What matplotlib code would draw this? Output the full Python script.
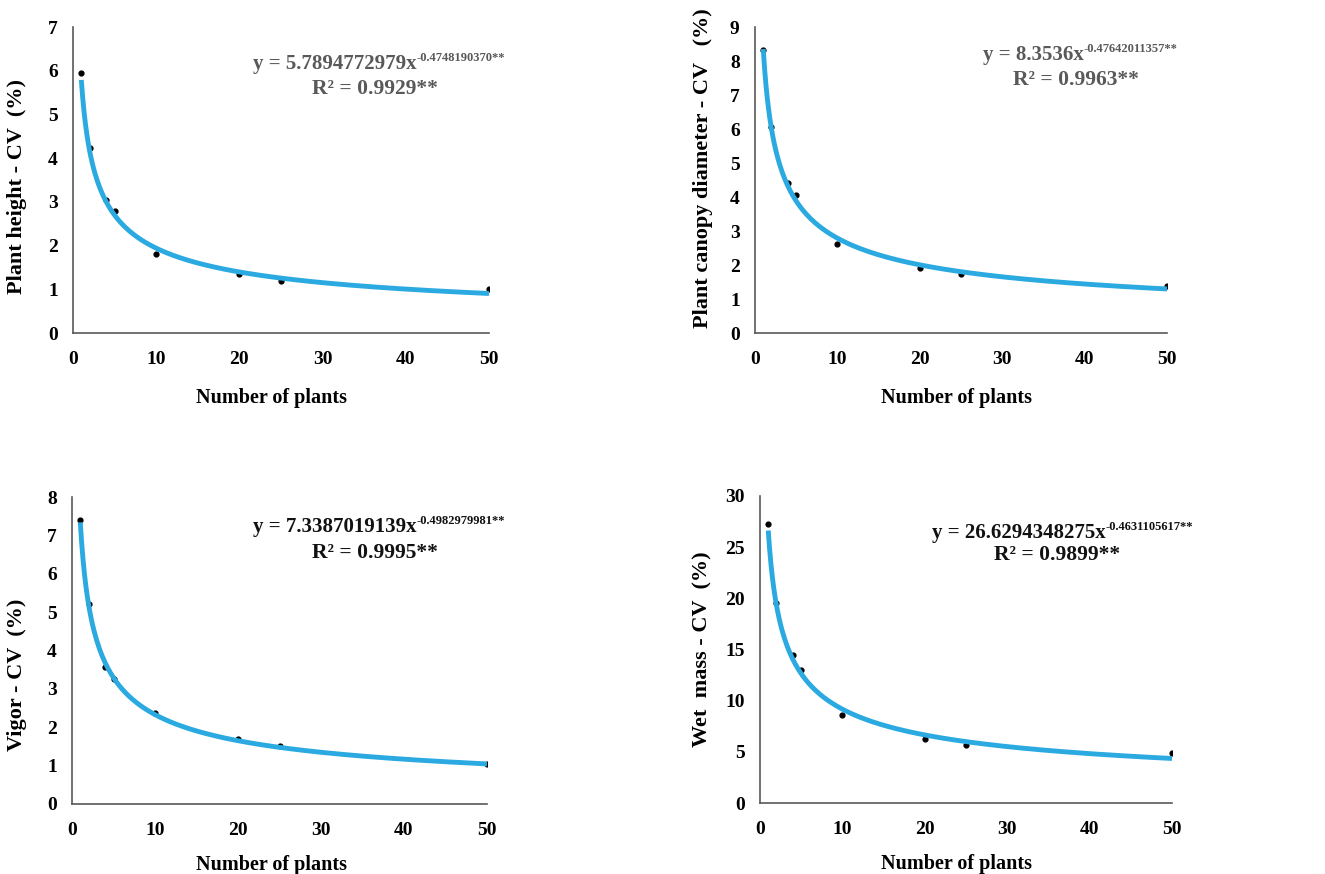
import numpy as np
import matplotlib
matplotlib.use("Agg")
import matplotlib.pyplot as plt

plt.rcParams['font.family'] = 'Liberation Serif'
plt.rcParams['font.weight'] = 'bold'

plants = [1, 2, 4, 5, 10, 20, 25, 50]

height_cv = [5.95, 4.23, 3.05, 2.78, 1.81, 1.35, 1.20, 1.00]
canopy_cv = [8.32, 6.05, 4.41, 4.05, 2.63, 1.90, 1.74, 1.37]
vigor_cv = [7.41, 5.22, 3.57, 3.27, 2.38, 1.70, 1.51, 1.03]
wetmass_cv = [27.27, 19.5, 14.5, 13.0, 8.6, 6.3, 5.66, 4.88]

# power fit coefficients as printed on the chart
coef_a = ["5.7894772979", "8.3536", "7.3387019139", "26.6294348275"]
coef_b = ["0.4748190370", "0.47642011357", "0.4982979981", "0.4631105617"]
r2 = ["0.9929", "0.9963", "0.9995", "0.9899"]

ylabels = ["Plant height - CV  (%)", "Plant canopy diameter - CV   (%)",
           "Vigor - CV  (%)", "Wet  mass - CV  (%)"]
ymax = [7, 9, 8, 30]
ysteps = [1, 1, 1, 5]
series = [height_cv, canopy_cv, vigor_cv, wetmass_cv]
text_colors = ["#595959", "#595959", "#111111", "#111111"]

W, H = 1325, 874
fig = plt.figure(figsize=(W / 100, H / 100), dpi=100)

# axes boxes in pixels: left, right, top, bottom
boxes = [(73, 489, 27, 333), (755, 1167, 27, 333),
         (72, 487, 497, 804), (760, 1172, 496, 803)]
eq_pos = [(0.433, 0.878), (0.553, 0.91), (0.436, 0.901), (0.417, 0.881)]
r2_pos = [(0.726, 0.797), (0.78, 0.827), (0.73, 0.818), (0.72, 0.808)]
ylab_y = [0.48, 0.54, 0.42, 0.50]
ylab_dx = [56, 52, 55, 58]
xlab_pos = [(0.478, -0.212), (0.49, -0.212), (0.48, -0.199), (0.478, -0.2)]

line_color = "#2AAAE0"
axes = []
for i in range(4):
    l, r, t, b = boxes[i]
    ax = fig.add_axes([l / W, 1 - b / H, (r - l) / W, (b - t) / H])
    axes.append(ax)

    a = float(coef_a[i])
    k = float(coef_b[i])
    xs = np.linspace(1, 50, 300)
    ax.scatter(plants, series[i], s=12, color="black", zorder=2)
    ax.plot(xs, a * xs ** (-k), color=line_color, lw=3.5, zorder=3,
            solid_capstyle="butt")

    ax.set_xlim(0, 50)
    ax.set_ylim(0, ymax[i])
    ax.set_xticks(np.arange(0, 51, 10))
    ax.set_yticks(np.arange(0, ymax[i] + 1, ysteps[i]))
    for s in ["top", "right"]:
        ax.spines[s].set_visible(False)
    for s in ["left", "bottom"]:
        ax.spines[s].set_color("#595959")
        ax.spines[s].set_linewidth(1.2)
    ax.tick_params(axis="both", length=0, labelsize=14)
    ax.tick_params(axis="y", pad=11)
    ax.tick_params(axis="x", pad=13)
    for lab in ax.get_xticklabels() + ax.get_yticklabels():
        lab.set_fontweight("bold")

    ax.set_ylabel(ylabels[i], fontsize=16, fontweight="bold")
    ax.yaxis.label.set_va("center")
    ax.yaxis.set_label_coords(-ylab_dx[i] / (r - l), ylab_y[i])
    ax.set_xlabel("Number of plants", fontsize=14.5, fontweight="bold")
    ax.xaxis.label.set_va("center")
    ax.xaxis.set_label_coords(*xlab_pos[i])

    ex, ey = eq_pos[i]
    main = ax.text(ex, ey, "y = " + coef_a[i] + "x", transform=ax.transAxes,
                   fontsize=15, fontweight="bold", color=text_colors[i],
                   ha="left", va="center")
    main.set_gid("main%d" % i)
    rx, ry = r2_pos[i]
    ax.text(rx, ry, "R² = " + r2[i] + "**", transform=ax.transAxes,
            fontsize=15.5, fontweight="bold", color=text_colors[i],
            ha="center", va="center")

fig.canvas.draw()
renderer = fig.canvas.get_renderer()
for i, ax in enumerate(axes):
    main = [t for t in ax.texts if t.get_gid() == "main%d" % i][0]
    bb = main.get_window_extent(renderer)
    inv = fig.transFigure.inverted()
    x0, y0 = inv.transform((bb.x1, bb.y1 - 4))
    fig.text(x0, y0, "-" + coef_b[i] + "**", fontsize=9,
             fontweight="bold", color=text_colors[i], ha="left", va="center")

fig.savefig("out.png", dpi=100)
